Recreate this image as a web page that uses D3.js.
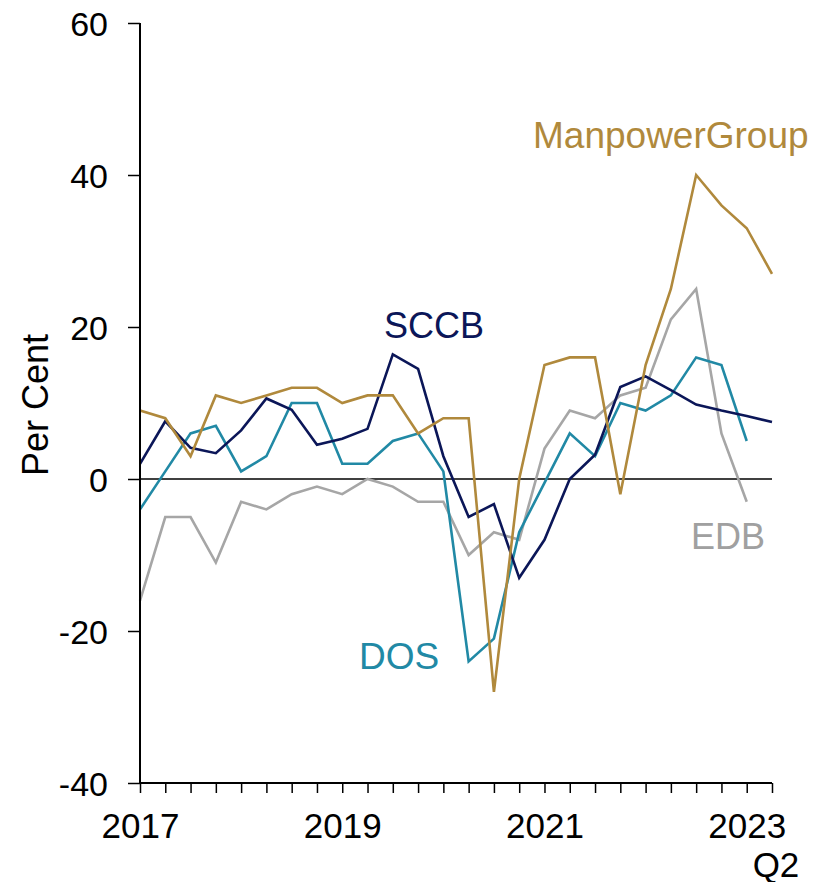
<!DOCTYPE html>
<html>
<head>
<meta charset="utf-8">
<script src="https://cdn.jsdelivr.net/npm/d3@7"></script>
<style>
  body { margin: 0; background: #fff; }
  svg text { font-family: "Liberation Sans", Arial, sans-serif; }
</style>
</head>
<body>
<div id="chart"></div>
<script>
// quarters 2017Q1 .. 2023Q2
const quarters = [];
for (let y = 2017; y <= 2023; y++) {
    for (let q = 1; q <= 4; q++) {
        if (y === 2023 && q > 2) break;
        quarters.push(y + "Q" + q);
    }
}

const manpower = [9, 8, 3, 11, 10, 11, 12, 12, 10, 11, 11, 6, 8, 8, -28, 0, 15, 16, 16, -2, 15, 25, 40, 36, 33, 27];
const sccb = [2, 7.6, 4.1, 3.4, 6.4, 10.6, 9.1, 4.5, 5.3, 6.6, 16.4, 14.5, 3, -5, -3.3, -13, -8, 0, 3.2, 12.1, 13.5, 11.7, 9.8, 9, 8.3, 7.5];
const dos = [-4, 1, 6, 7, 1, 3, 10, 10, 2, 2, 5, 6, 1, -24, -21, -7, -0.5, 6, 3, 10, 9, 11, 16, 15, 5, null];
const edb = [-16, -5, -5, -11, -3, -4, -2, -1, -2, 0, -1, -3, -3, -10, -7, -8, 4, 9, 8, 11, 12, 21, 25, 6, -3, null];

const yTicks = [-40, -20, 0, 20, 40, 60];
const xTickLabels = ["2017Q1", "2019Q1", "2021Q1", "2023Q1"];

const series = [
    { name: "EDB", values: edb, color: "#a6a6a6", labelColor: "#a0a0a0", lx: 691, ly: 549, fs: 36 },
    { name: "DOS", values: dos, color: "#2189a5", labelColor: "#2189a5", lx: 359, ly: 669, fs: 37 },
    { name: "SCCB", values: sccb, color: "#0b1658", labelColor: "#0b1658", lx: 384, ly: 338, fs: 36 },
    { name: "ManpowerGroup", values: manpower, color: "#b0893c", labelColor: "#b0893c", lx: 533, ly: 148, fs: 37 }
];

const margin = { top: 23, right: 52, bottom: 99, left: 140 };
const width = 824 - margin.left - margin.right;
const height = 882 - margin.top - margin.bottom;

const svg = d3.select("#chart")
    .append("svg")
    .attr("width", 824)
    .attr("height", 882);

const g = svg.append("g")
    .attr("transform", `translate(${margin.left},${margin.top})`);

const x = d3.scalePoint()
    .domain(quarters)
    .range([0, width]);

const y = d3.scaleLinear()
    .domain([-40, 60])
    .range([height, 0]);

// zero line
g.append("line")
    .attr("x1", 0)
    .attr("x2", width)
    .attr("y1", y(0))
    .attr("y2", y(0))
    .attr("stroke", "#000")
    .attr("stroke-width", 1.5);

// lines
const line = d3.line()
    .defined(d => d != null)
    .x((d, i) => x(quarters[i]))
    .y(d => y(d));

series.forEach(s => {
    g.append("path")
        .datum(s.values)
        .attr("fill", "none")
        .attr("stroke", s.color)
        .attr("stroke-width", 2.6)
        .attr("stroke-linejoin", "miter")
        .attr("d", line);

    svg.append("text")
        .attr("x", s.lx)
        .attr("y", s.ly)
        .attr("fill", s.labelColor)
        .style("font-size", s.fs + "px")
        .text(s.name);
});

// y axis
const yAxis = g.append("g")
    .call(d3.axisLeft(y).tickValues(yTicks).tickSize(12).tickPadding(20).tickFormat(d => String(d)));
yAxis.select(".domain").attr("stroke-width", 2).attr("d", `M0,0V${height}`);
yAxis.selectAll(".tick line").attr("stroke-width", 1.5);
yAxis.selectAll("text")
    .style("font-size", "34px")
    .style("font-family", "'Liberation Sans', Arial, sans-serif")
    .attr("dy", "0.36em");

// x axis
const xAxis = g.append("g")
    .attr("transform", `translate(0,${height})`)
    .call(d3.axisBottom(x).tickSize(10).tickFormat(d => xTickLabels.includes(d) ? d.slice(0, 4) : ""));
xAxis.select(".domain").attr("stroke-width", 2).attr("d", `M0,0H${width}`);
xAxis.selectAll(".tick line").attr("stroke-width", 1.5);
xAxis.selectAll("text")
    .style("font-size", "35px")
    .style("font-family", "'Liberation Sans', Arial, sans-serif")
    .attr("y", 55)
    .attr("dy", 0);

g.append("text")
    .attr("x", x(quarters[quarters.length - 1]) + 4)
    .attr("y", height + 94)
    .attr("text-anchor", "middle")
    .style("font-size", "35px")
    .text("Q2");

// y label
svg.append("text")
    .attr("transform", `translate(48,405) rotate(-90)`)
    .attr("text-anchor", "middle")
    .style("font-size", "36px")
    .text("Per Cent");
</script>
</body>
</html>
